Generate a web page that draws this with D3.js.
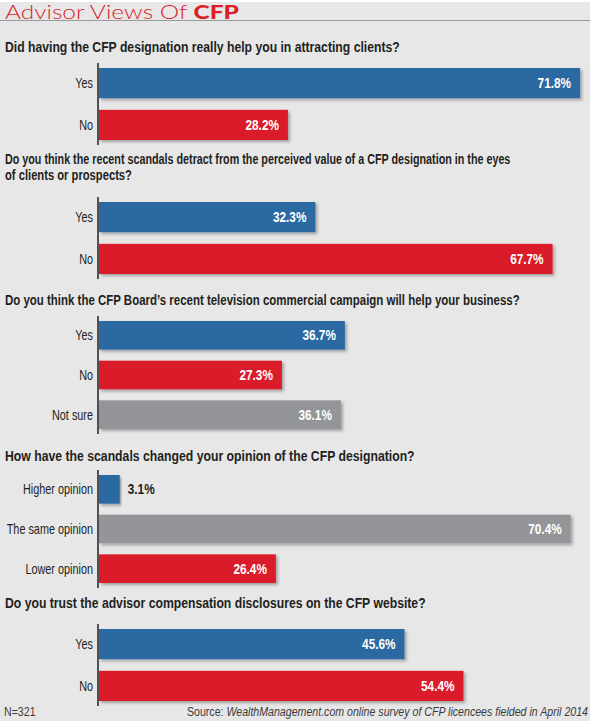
<!DOCTYPE html>
<html>
<head>
<meta charset="utf-8">
<script src="https://cdn.jsdelivr.net/npm/d3@7"></script>
<style>
  html, body { margin: 0; padding: 0; background: #ffffff; }
  svg { display: block; }
</style>
</head>
<body>
<svg id="chart" width="595" height="721"></svg>
<script>
// ---- data ----
const titleLight = "Advisor Views Of ";
const titleBold = "CFP";

const questions = [
  ["Did having the CFP designation really help you in attracting clients?"],
  ["Do you think the recent scandals detract from the perceived value of a CFP designation in the eyes", "of clients or prospects?"],
  ["Do you think the CFP Board\u2019s recent television commercial campaign will help your business?"],
  ["How have the scandals changed your opinion of the CFP designation?"],
  ["Do you trust the advisor compensation disclosures on the CFP website?"]
];
const q1Categories = ["Yes", "No"];
const q1Values = [71.8, 28.2];
const q2Categories = ["Yes", "No"];
const q2Values = [32.3, 67.7];
const q3Categories = ["Yes", "No", "Not sure"];
const q3Values = [36.7, 27.3, 36.1];
const q4Categories = ["Higher opinion", "The same opinion", "Lower opinion"];
const q4Values = [3.1, 70.4, 26.4];
const q5Categories = ["Yes", "No"];
const q5Values = [45.6, 54.4];

const footNote = "N=321";
const sourceLabel = "Source: ";
const sourceText = "WealthManagement.com online survey of CFP licencees fielded in April 2014";

const categoryColor = {
  "Yes": "#2a69a1", "Higher opinion": "#2a69a1",
  "No": "#da1f29", "Lower opinion": "#da1f29",
  "Not sure": "#939598", "The same opinion": "#939598"
};

// ---- layout ----
const W = 595, H = 721;
const panelRight = 590;
const axisX = 99;
const qBaselines = [52, 164, 305, 461, 608];
const qLineWidths = [[395], [506, 127], [515], [410], [421]];
const barTops = [68, 202, 321, 475, 629];
const barStep = 36, barH = 26;
const baseFont = "'Liberation Sans', Arial, sans-serif";
const textDark = "#231f20";

const blocks = [
  {cats: q1Categories, vals: q1Values},
  {cats: q2Categories, vals: q2Values},
  {cats: q3Categories, vals: q3Values},
  {cats: q4Categories, vals: q4Values},
  {cats: q5Categories, vals: q5Values}
];

const svg = d3.select("#chart");
const defs = svg.append("defs");
const f = defs.append("filter").attr("id", "shadow").attr("x", "-5%").attr("y", "-30%").attr("width", "115%").attr("height", "180%");
f.append("feDropShadow").attr("dx", 2).attr("dy", 2).attr("stdDeviation", 1.6)
  .attr("flood-color", "#000").attr("flood-opacity", 0.3);

svg.append("rect").attr("x", 0).attr("y", 2).attr("width", panelRight).attr("height", H - 2).attr("fill", "#e7e7e8");

function measure(str, size, weight) {
  const t = svg.append("text").attr("font-family", baseFont).attr("font-size", size)
    .attr("font-weight", weight).text(str);
  const w = t.node().getComputedTextLength();
  t.remove();
  return w;
}
const qSize = 15.5;
const K = 395 / measure(questions[0][0], qSize, "bold");

function cText(parent, x, y, anchor, k) {
  const g = parent.append("g").attr("transform", `translate(${x},${y}) scale(${k || K},1)`);
  return g.append("text").attr("x", 0).attr("y", 0).attr("text-anchor", anchor || "start")
    .attr("font-family", baseFont);
}

// title
const tg = svg.append("g");
const title = tg.append("text").attr("x", 0).attr("y", 0)
  .attr("font-family", "Lato, 'Open Sans', sans-serif").attr("font-size", 19.5).attr("fill", "#da1f29");
title.append("tspan").attr("font-weight", 300).text(titleLight);
title.append("tspan").attr("font-weight", 900).text(titleBold);
const tW = title.node().getComputedTextLength();
tg.attr("transform", `translate(5,18.5) scale(${234 / tW},1)`);
svg.append("line").attr("x1", 0).attr("x2", panelRight).attr("y1", 20.5).attr("y2", 20.5)
  .attr("stroke", "#9a9a9c").attr("stroke-width", 1);

const x = d3.scaleLinear().domain([0, 100]).range([axisX, axisX + 670]);

blocks.forEach((b, i) => {
  const g = svg.append("g");
  questions[i].forEach((line, j) => {
    const k = qLineWidths[i][j] / measure(line, qSize, "bold");
    cText(g, 5, qBaselines[i] + j * 16, "start", k).attr("font-weight", "bold")
      .attr("font-size", qSize).attr("fill", textDark).text(line);
  });

  const y = d3.scaleBand().domain(b.cats)
    .range([barTops[i], barTops[i] + barStep * b.cats.length])
    .paddingInner((barStep - barH) / barStep).paddingOuter(0).align(0);
  const rows = b.cats.map((c, k) => ({cat: c, val: b.vals[k]}));

  g.selectAll("rect.bar").data(rows).join("rect").attr("class", "bar")
    .attr("x", x(0)).attr("y", d => y(d.cat))
    .attr("width", d => x(d.val) - x(0)).attr("height", y.bandwidth())
    .attr("fill", d => categoryColor[d.cat]).attr("filter", "url(#shadow)");

  const y0 = barTops[i] - 5;
  const y1 = y(b.cats[b.cats.length - 1]) + y.bandwidth() + 5;
  g.append("line").attr("x1", axisX - 1).attr("x2", axisX - 1).attr("y1", y0).attr("y2", y1)
    .attr("stroke", "#231f20").attr("stroke-width", 1.5);

  rows.forEach(d => {
    const cy = y(d.cat) + y.bandwidth() / 2 + 5;
    cText(g, axisX - 6, cy, "end").attr("font-size", 13.8).attr("fill", textDark).text(d.cat);
    const outside = d.val < 8;
    cText(g, outside ? x(d.val) + 8 : x(d.val) - 9, cy, outside ? "start" : "end")
      .attr("font-weight", "bold").attr("font-size", 15)
      .attr("fill", outside ? textDark : "#ffffff")
      .text(d.val.toFixed(1) + "%");
  });
});

// footer
cText(svg, 4, 716).attr("font-size", 13.5).attr("fill", "#3a3a3a").text(footNote);
const src = cText(svg, 588, 716, "end").attr("font-size", 13.5).attr("fill", "#3a3a3a");
src.append("tspan").text(sourceLabel);
src.append("tspan").attr("font-style", "italic").text(sourceText);
</script>
</body>
</html>
